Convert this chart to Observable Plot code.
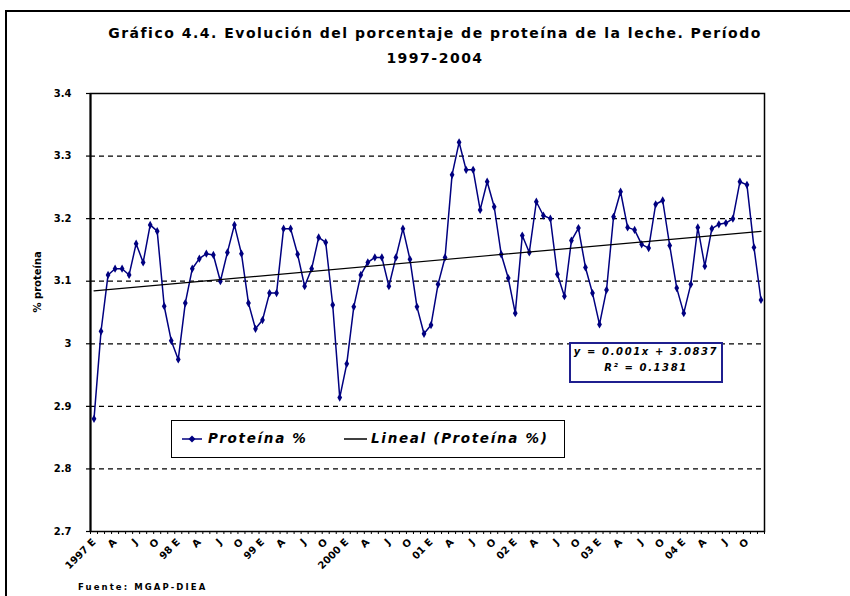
<!DOCTYPE html>
<html>
<head>
<meta charset="utf-8">
<script src="https://cdn.jsdelivr.net/npm/d3@7"></script>
<script src="https://cdn.jsdelivr.net/npm/@observablehq/plot@0.6"></script>
<style>
  html, body { margin: 0; padding: 0; background: #fff; }
  #wrap { position: relative; width: 850px; height: 596px; overflow: hidden; font-family: "DejaVu Sans", Verdana, sans-serif; }
  #frame { position: absolute; left: 5px; top: 10px; width: 900px; height: 700px; border-left: 2px solid #000; border-top: 2px solid #000; }
  #chart { position: absolute; left: 0; top: 0; }
  .title { position: absolute; left: 0; width: 870px; text-align: center; font-weight: bold; font-size: 14px; letter-spacing: 1.5px; color: #000; }
  #legend { position: absolute; left: 171px; top: 420px; width: 392px; height: 36px; border: 1.5px solid #000; background: #fff; font-weight: bold; font-style: italic; font-size: 13.5px; letter-spacing: 1.7px; }
  #legend svg { position: absolute; top: 0; left: 0; }
  .lg { position: absolute; top: 9px; }
  #eq { position: absolute; left: 569px; top: 342px; width: 150px; height: 37px; border: 2px solid #1f1f8f; background: #fff; font-size: 10px; font-weight: bold; font-style: italic; text-align: center; line-height: 16px; letter-spacing: 1.6px; }
  #source { position: absolute; left: 78px; top: 582px; font-size: 8.5px; font-weight: bold; letter-spacing: 2.1px; }
</style>
</head>
<body>
<div id="wrap">
  <div id="frame"></div>
  <div id="chart"></div>
  <div class="title" style="top:25px">Gráfico 4.4. Evolución del porcentaje de proteína de la leche. Período</div>
  <div class="title" style="top:50px">1997-2004</div>
  <div id="legend">
    <svg width="392" height="36">
      <line x1="10" y1="18" x2="30" y2="18" stroke="#000080" stroke-width="1.5"></line>
      <path d="M20,14.5 L23.5,18 L20,21.5 L16.5,18 Z" fill="#000080"></path>
      <line x1="172" y1="18" x2="195" y2="18" stroke="#000" stroke-width="1.5"></line>
    </svg>
    <span class="lg" style="left:36px">Proteína %</span>
    <span class="lg" style="left:199px">Lineal (Proteína %)</span>
  </div>
  <div id="eq">y = 0.001x + 3.0837<br>R² = 0.1381</div>
  <div id="source">Fuente: MGAP-DIEA</div>
</div>
<script>
// Monthly milk protein percentage, January 1997 .. December 2004
const protein = [
  2.88, 3.02, 3.11, 3.12, 3.12, 3.11, 3.16, 3.13, 3.19, 3.18,
  3.06, 3.005, 2.975, 3.065, 3.12, 3.136, 3.144, 3.142, 3.10, 3.146,
  3.19, 3.144, 3.065, 3.024, 3.038, 3.081, 3.081, 3.184, 3.184, 3.143,
  3.092, 3.12, 3.17, 3.162, 3.062, 2.914, 2.968, 3.059, 3.11, 3.13,
  3.138, 3.138, 3.092, 3.138, 3.184, 3.135, 3.059, 3.016, 3.03, 3.095,
  3.138, 3.27, 3.322, 3.278, 3.278, 3.214, 3.259, 3.219, 3.143, 3.105,
  3.049, 3.173, 3.146, 3.227, 3.205, 3.2, 3.111, 3.076, 3.165, 3.185,
  3.122, 3.081, 3.031, 3.086, 3.203, 3.243, 3.186, 3.182, 3.159, 3.153,
  3.223, 3.229, 3.157, 3.089, 3.049, 3.095, 3.186, 3.124, 3.184, 3.191,
  3.193, 3.2, 3.259, 3.254, 3.154, 3.07
];
const yearLabels = ["1997", "98", "99", "2000", "01", "02", "03", "04"];
const monthLabels = ["E", "A", "J", "O"];
const yTicks = [2.7, 2.8, 2.9, 3.0, 3.1, 3.2, 3.3, 3.4];
const gridValues = [2.8, 2.9, 3.0, 3.1, 3.2, 3.3];
const trendSlope = 0.001;
const trendIntercept = 3.0837;

const data = protein.map((v, i) => ({i, v}));
const n = protein.length;
const trend = [0, n - 1].map(i => ({i, v: trendSlope * (i + 1) + trendIntercept}));
const boundaries = d3.range(n + 1).map(i => i - 0.5);
const labelIdx = d3.range(0, n, 3);
const labelOf = i => {
  const m = (i % 12) / 3;
  return m === 0 ? yearLabels[Math.floor(i / 12)] + " " + monthLabels[0] : monthLabels[m];
};

const chart = Plot.plot({
  width: 850,
  height: 596,
  marginTop: 93,
  marginBottom: 65,
  marginLeft: 90,
  marginRight: 86,
  style: {background: "transparent", fontFamily: "DejaVu Sans, sans-serif", color: "#000"},
  x: {domain: [-0.5, n - 0.5], axis: null},
  y: {domain: [2.7, 3.4], axis: null},
  marks: [
    Plot.ruleY(gridValues, {stroke: "#000", strokeDasharray: "5,4", strokeWidth: 1.2}),
    Plot.axisY(yTicks, {tickSize: 4, tickPadding: 15, fontWeight: "bold", fontSize: 10, tickFormat: d => String(d), label: null, strokeWidth: 1.2}),
    Plot.axisX(boundaries, {tickSize: 3, tickFormat: () => "", label: null}),
    Plot.axisX(labelIdx, {tickSize: 0, tickPadding: 9, tickRotate: -45, tickFormat: labelOf, fontWeight: "bold", fontSize: 10, label: null}),
    Plot.text(["% proteína"], {frameAnchor: "left", dx: -53, rotate: -90, fontWeight: "bold", fontSize: 10}),
    Plot.frame({stroke: "#000", strokeWidth: 1.5}),
    Plot.ruleX([-0.5], {stroke: "#000", strokeWidth: 2}),
    Plot.line(data, {x: "i", y: "v", stroke: "#000080", strokeWidth: 1.5}),
    Plot.dot(data, {x: "i", y: "v", symbol: "diamond", r: 2.5, fill: "#000080"}),
    Plot.line(trend, {x: "i", y: "v", stroke: "#000", strokeWidth: 1.2})
  ]
});
document.getElementById("chart").appendChild(chart);
</script>
</body>
</html>
